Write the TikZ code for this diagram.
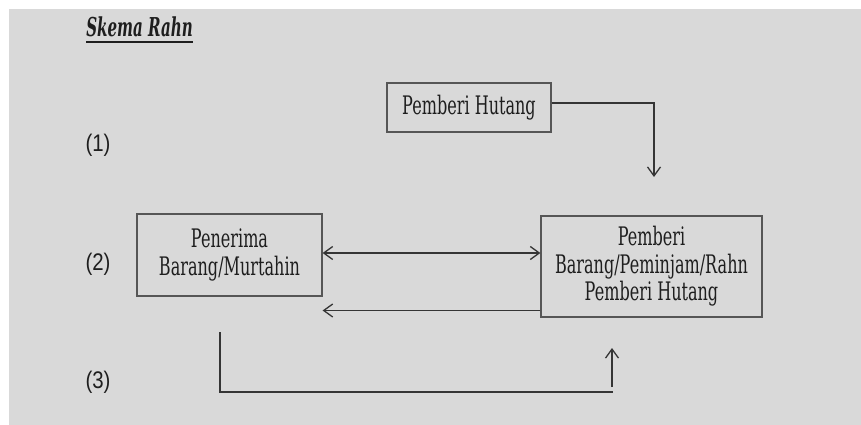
\documentclass[tikz,border=0pt]{standalone}
\usepackage{fontspec}
\setmainfont{DejaVu Serif}[FakeStretch=0.63]
\newfontfamily\judulfont{DejaVu Serif}[FakeStretch=0.58]
\newfontfamily\numfont{Liberation Sans}[FakeStretch=0.85]
\usetikzlibrary{arrows.meta}
\definecolor{bggray}{HTML}{D9D9D9}
\definecolor{inkgray}{HTML}{1E1E1E}
\tikzset{
  kotak/.style={draw=inkgray!75, line width=1.2pt, inner sep=0pt, align=center,
    font=\fontsize{25.5}{27.5}\selectfont, text=inkgray},
  panah/.style={draw=inkgray!90, line width=1.3pt, -{Straight Barb[length=9pt,width=13pt]}},
  duapanah/.style={draw=inkgray!90, line width=1.3pt, {Straight Barb[length=9pt,width=13pt]}-{Straight Barb[length=9pt,width=13pt]}},
  garis/.style={draw=inkgray!90, line width=1.3pt},
  nomor/.style={font=\numfont\fontsize{24}{26}\selectfont, text=inkgray},
}
\begin{document}
\begin{tikzpicture}[x=1pt,y=-1pt]

    \fill[white] (0,0) rectangle (861,425);
    \fill[bggray] (9,9) rectangle (861,425);

    \node[font=\judulfont\bfseries\itshape\fontsize{26}{28}\selectfont, inner sep=0pt, text=inkgray] (judul) at (139.5,27) {Skema Rahn};
    \draw[inkgray, line width=2pt] ([yshift=-5pt]judul.south west) -- ([yshift=-5pt]judul.south east);

    \node[kotak, minimum width=164pt, minimum height=49pt] (hutang) at (469,107.5) {Pemberi Hutang};
    \node[kotak, minimum width=185pt, minimum height=82pt] (murtahin) at (229.5,255) {Penerima\\Barang/Murtahin};
    \node[kotak, minimum width=221pt, minimum height=101pt] (rahin) at (651.5,266.5) {Pemberi\\Barang/Peminjam/Rahn\\Pemberi Hutang};

    \node[nomor] (n1) at (98,145) {(1)};
    \node[nomor] (n2) at (98,264) {(2)};
    \node[nomor] (n3) at (98,382) {(3)};

    \coordinate (turun) at (654,177);
    \coordinate (kiriatas) at (220,332);
    \coordinate (kananbawah) at (613,392);
    \coordinate (naikbawah) at (612,387);
    \coordinate (naikatas) at (612,348);

    \draw[panah] ([yshift=4.5pt]hutang.east) -| (turun);
    \draw[duapanah] ([yshift=2pt]murtahin.east) -- ([yshift=2pt]murtahin.east -| rahin.west);
    \draw[panah] ([yshift=-44pt]rahin.west) -- ([yshift=-44pt]rahin.west -| murtahin.east);
    \draw[garis] (kiriatas) |- (kananbawah);
    \draw[panah] (naikbawah) -- (naikatas);
\end{tikzpicture}
\end{document}
